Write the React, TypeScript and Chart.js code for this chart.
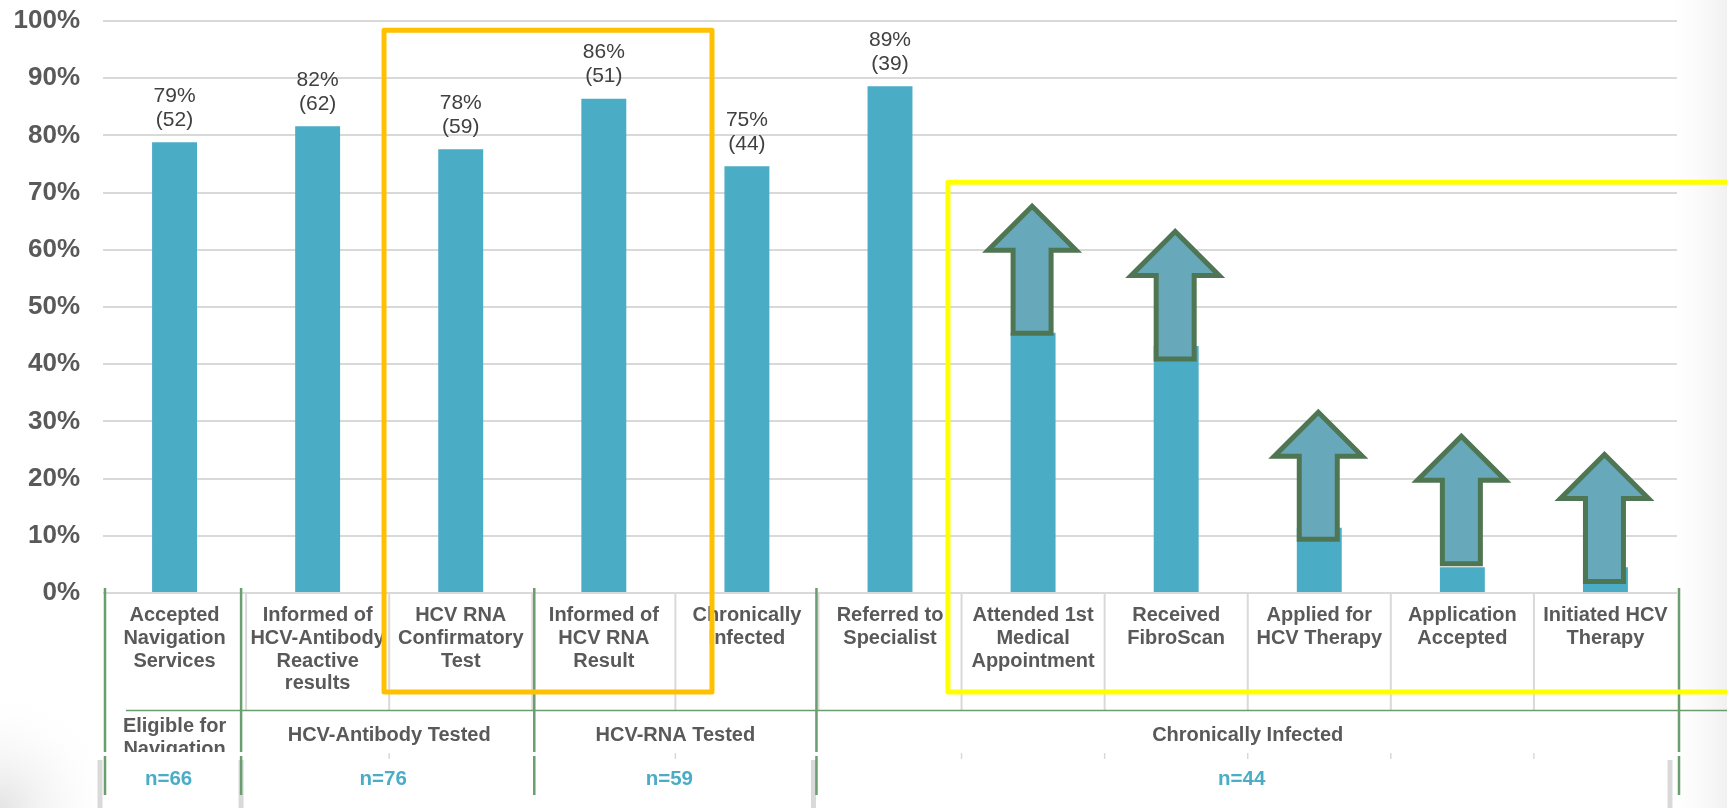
import React, { useEffect, useRef } from 'react';
import { Chart, registerables } from 'chart.js';

Chart.register(...registerables);

const FONT = '"Liberation Sans", Arial, sans-serif';

// ---------- data ----------
const categories: string[][] = [
  ['Accepted', 'Navigation', 'Services'],
  ['Informed of', 'HCV-Antibody', 'Reactive', 'results'],
  ['HCV RNA', 'Confirmatory', 'Test'],
  ['Informed of', 'HCV RNA', 'Result'],
  ['Chronically', 'Infected'],
  ['Referred to', 'Specialist'],
  ['Attended 1st', 'Medical', 'Appointment'],
  ['Received', 'FibroScan'],
  ['Applied for', 'HCV Therapy'],
  ['Application', 'Accepted'],
  ['Initiated HCV', 'Therapy'],
];
const barValues = [78.8, 81.6, 77.6, 86.4, 74.6, 88.6, 45.5, 43.2, 11.4, 4.5, 4.5];
const pctLabels = ['79%', '82%', '78%', '86%', '75%', '89%', '', '', '', '', ''];
const countLabels = ['(52)', '(62)', '(59)', '(51)', '(44)', '(39)', '', '', '', '', ''];
const yTicks = [0, 10, 20, 30, 40, 50, 60, 70, 80, 90, 100];

// arrows overlaid on the last five bars (values in % on the y scale)
const arrowBars = [6, 7, 8, 9, 10];
const arrowBase = [45.4, 40.9, 9.4, 5.1, 2.0];
const arrowTip = [67.6, 63.2, 31.6, 27.4, 24.2];

// groups below the axis (boundary indices)
const groupLabels: string[][] = [['Eligible for', 'Navigation'], ['HCV-Antibody Tested'], ['HCV-RNA Tested'], ['Chronically Infected']];
const groupStart = [0, 1, 3, 5];
const groupEnd = [1, 3, 5, 11];
const groupN = ['n=66', 'n=76', 'n=59', 'n=44'];

// ---------- styles ----------
const BAR_COLOR = '#4BACC6';
const GRID = '#D9D9D9';
const GREEN = '#6A9E6E';
const TXT = '#595959';

const backgroundPlugin = {
  id: 'bg',
  beforeDraw(chart: any) {
    const { ctx, width, height } = chart;
    ctx.save();
    ctx.fillStyle = '#ffffff';
    ctx.fillRect(0, 0, width, height);
    // right side slide gradient
    const g = ctx.createLinearGradient(width - 55, 0, width, 0);
    g.addColorStop(0, 'rgba(248,248,248,0)');
    g.addColorStop(1, 'rgba(241,241,241,1)');
    ctx.fillStyle = g;
    ctx.fillRect(width - 55, 0, 55, height);
    // bottom-left corner shade
    const r = ctx.createRadialGradient(0, height, 0, 0, height, 120);
    r.addColorStop(0, 'rgba(228,228,228,1)');
    r.addColorStop(1, 'rgba(255,255,255,0)');
    ctx.fillStyle = r;
    ctx.fillRect(0, height - 120, 120, 120);
    ctx.restore();
  },
};

const labelsAndArrowsPlugin = {
  id: 'labelsArrows',
  afterDatasetsDraw(chart: any) {
    const { ctx } = chart;
    const xs = chart.scales.x;
    const ys = chart.scales.y;
    ctx.save();
    ctx.font = `21px ${FONT}`;
    ctx.fillStyle = '#404040';
    ctx.textAlign = 'center';
    ctx.textBaseline = 'alphabetic';
    barValues.forEach((v, i) => {
      if (!pctLabels[i]) return;
      const x = xs.getPixelForValue(i);
      const top = ys.getPixelForValue(v);
      ctx.fillText(pctLabels[i], x, top - 40.5);
      ctx.fillText(countLabels[i], x, top - 16.5);
    });
    // arrows
    ctx.lineWidth = 5;
    ctx.lineJoin = 'miter';
    ctx.strokeStyle = '#4F7653';
    ctx.fillStyle = '#67A8BA';
    arrowBars.forEach((bi, k) => {
      const cx = xs.getPixelForValue(bi) - 1;
      const tip = ys.getPixelForValue(arrowTip[k]);
      const base = ys.getPixelForValue(arrowBase[k]);
      const hd = 44;
      const hw = 44;
      const sw = 19;
      ctx.beginPath();
      ctx.moveTo(cx, tip);
      ctx.lineTo(cx + hw, tip + hd);
      ctx.lineTo(cx + sw, tip + hd);
      ctx.lineTo(cx + sw, base);
      ctx.lineTo(cx - sw, base);
      ctx.lineTo(cx - sw, tip + hd);
      ctx.lineTo(cx - hw, tip + hd);
      ctx.closePath();
      ctx.fill();
      ctx.stroke();
    });
    ctx.restore();
  },
};

const tablePlugin = {
  id: 'table',
  afterDraw(chart: any) {
    const { ctx, chartArea, width } = chart;
    const ys = chart.scales.y;
    const left = chartArea.left;
    const catW = (chartArea.right - chartArea.left) / categories.length;
    const bx = (k: number) => left + k * catW;
    const y0 = ys.getPixelForValue(0);
    ctx.save();

    // gray verticals in first row
    ctx.strokeStyle = GRID;
    ctx.lineWidth = 2;
    for (let k = 1; k < categories.length; k++) {
      ctx.beginPath();
      ctx.moveTo(bx(k), y0);
      ctx.lineTo(bx(k), y0 + 117);
      ctx.stroke();
    }
    // tiny gray ticks
    ctx.lineWidth = 1.5;
    [2, 4, 6, 7, 8, 9, 10].forEach((k) => {
      ctx.beginPath();
      ctx.moveTo(bx(k), y0 + 160);
      ctx.lineTo(bx(k), y0 + 166);
      ctx.stroke();
    });
    // gray decorative strips bottom
    ctx.fillStyle = GRID;
    [0, 1, 5, 11].forEach((k, j) => {
      const off = [-3, -5, -5, -7][j];
      ctx.fillRect(bx(k) + off - 2.5, y0 + 167, 5, 60);
    });

    // green lines
    ctx.strokeStyle = GREEN;
    ctx.lineWidth = 2.5;
    const greens = [0, 1, 3, 5, 11];
    greens.forEach((k, j) => {
      const off = [2, -5, 2, -2, 2][j];
      const x = bx(k) + off;
      ctx.beginPath();
      ctx.moveTo(x, y0 - 5);
      ctx.lineTo(x, y0 + 159);
      ctx.moveTo(x, y0 + 163);
      ctx.lineTo(x, y0 + 202);
      ctx.stroke();
    });
    ctx.lineWidth = 1.5;
    ctx.beginPath();
    ctx.moveTo(bx(0) + 23, y0 + 117.5);
    ctx.lineTo(width, y0 + 117.5);
    ctx.stroke();

    // group labels
    ctx.fillStyle = TXT;
    ctx.font = `bold 20px ${FONT}`;
    ctx.textAlign = 'center';
    ctx.textBaseline = 'alphabetic';
    groupLabels.forEach((lines, g) => {
      const cx = (bx(groupStart[g]) + bx(groupEnd[g])) / 2;
      if (lines.length === 1) {
        ctx.fillText(lines[0], cx, y0 + 147.5);
      } else {
        ctx.save();
        ctx.beginPath();
        ctx.rect(bx(groupStart[g]), y0 + 118, bx(groupEnd[g]) - bx(groupStart[g]), 41);
        ctx.clip();
        lines.forEach((ln, li) => ctx.fillText(ln, cx, y0 + 139 + li * 23));
        ctx.restore();
      }
    });
    // n labels
    ctx.fillStyle = BAR_COLOR;
    ctx.font = `bold 20.5px ${FONT}`;
    groupN.forEach((t, g) => {
      const cx = (bx(groupStart[g]) + bx(groupEnd[g])) / 2 - 6;
      ctx.fillText(t, cx, y0 + 192);
    });

    // highlight rectangles
    ctx.lineWidth = 5;
    ctx.lineJoin = 'round';
    ctx.strokeStyle = '#FFC000';
    const oTop = ys.getPixelForValue(98.4);
    ctx.beginPath();
    ctx.rect(bx(1.964), oTop, bx(4.256) - bx(1.964), y0 + 99 - oTop);
    ctx.stroke();
    ctx.strokeStyle = '#FFFF00';
    const yTop = ys.getPixelForValue(71.8);
    ctx.beginPath();
    ctx.moveTo(width + 10, yTop);
    ctx.lineTo(bx(5.905), yTop);
    ctx.lineTo(bx(5.905), y0 + 99);
    ctx.lineTo(width + 10, y0 + 99);
    ctx.stroke();

    ctx.restore();
  },
};

export default function App() {
  const ref = useRef<HTMLCanvasElement | null>(null);
  useEffect(() => {
    document.body.style.margin = '0';
    const canvas = ref.current;
    if (!canvas) return;
    const chart = new Chart(canvas, {
      type: 'bar',
      data: {
        labels: categories as any,
        datasets: [
          {
            data: barValues,
            backgroundColor: BAR_COLOR,
            barPercentage: 0.314,
            categoryPercentage: 1.0,
          },
        ],
      },
      options: {
        responsive: false,
        animation: false,
        devicePixelRatio: 1,
        layout: { padding: { top: 21, right: 50, bottom: 0, left: 0 } },
        plugins: { legend: { display: false }, tooltip: { enabled: false } },
        scales: {
          x: {
            offset: true,
            grid: { display: false, drawTicks: false },
            border: { display: false },
            ticks: {
              autoSkip: false,
              maxRotation: 0,
              minRotation: 0,
              padding: 11,
              color: TXT,
              font: { family: FONT, size: 20, weight: 'bold', lineHeight: 1.14 },
            },
            afterFit: (s: any) => {
              s.height = 215;
              s.paddingLeft = 0;
              s.paddingRight = 0;
            },
          },
          y: {
            min: 0,
            max: 100,
            afterBuildTicks: (s: any) => {
              s.ticks = yTicks.map((v) => ({ value: v }));
            },
            ticks: {
              padding: 23,
              color: TXT,
              font: { family: FONT, size: 26, weight: 'bold' },
              callback: (v: any) => `${v}%`,
            },
            grid: { color: GRID, lineWidth: 2, drawTicks: false },
            border: { display: false },
            afterFit: (s: any) => {
              s.width = 103;
              s.paddingTop = 0;
              s.paddingBottom = 0;
            },
          },
        },
      },
      plugins: [backgroundPlugin, labelsAndArrowsPlugin, tablePlugin],
    });
    return () => chart.destroy();
  }, []);
  return (
    <div style={{ width: 1727, height: 808, position: 'relative', overflow: 'hidden' }}>
      <canvas ref={ref} width={1727} height={808} style={{ display: 'block' }} />
    </div>
  );
}
